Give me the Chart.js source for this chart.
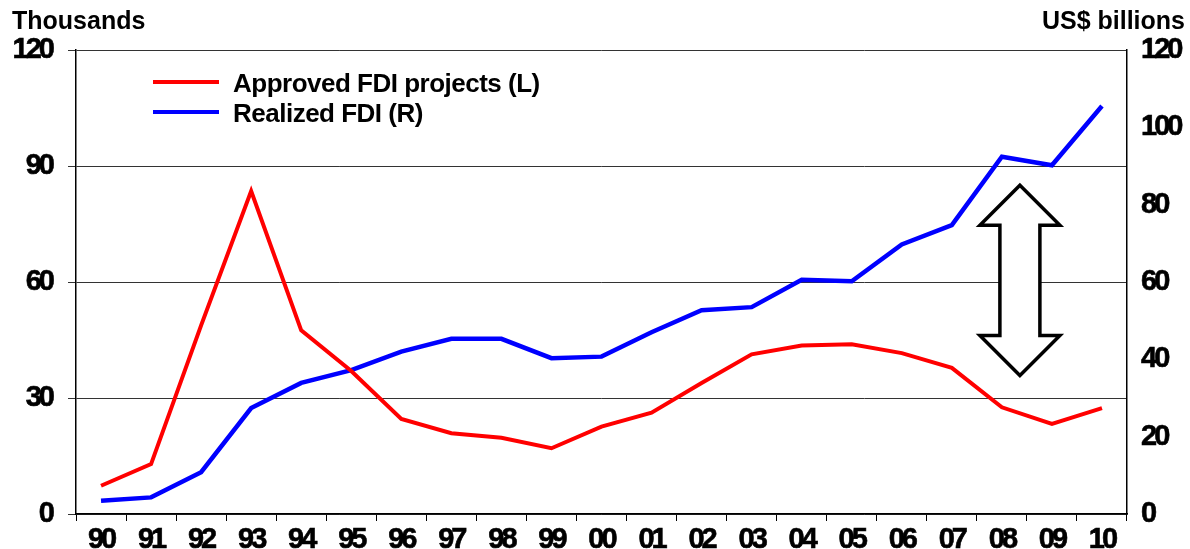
<!DOCTYPE html>
<html>
<head>
<meta charset="utf-8">
<script src="https://cdn.jsdelivr.net/npm/chart.js@4.4.0/dist/chart.umd.min.js"></script>
<style>
    html, body { margin: 0; padding: 0; background: #fff; }
    #wrap { width: 1190px; height: 549px; }
</style>
</head>
<body>
<div id="wrap"><canvas id="grafico"></canvas></div>
<script>
// datos
var years = ['90', '91', '92', '93', '94', '95', '96', '97', '98', '99', '00',
             '01', '02', '03', '04', '05', '06', '07', '08', '09', '10'];
var approvedProjects = [7.3, 12.9, 48.8, 83.5, 47.5, 37.0, 24.6, 20.9, 19.7, 17.0, 22.6,
                        26.2, 33.9, 41.3, 43.6, 43.9, 41.6, 37.8, 27.6, 23.3, 27.4];
var realizedFdi = [3.4, 4.3, 10.8, 27.4, 33.9, 37.2, 42.0, 45.3, 45.3, 40.3, 40.7,
                   47.0, 52.7, 53.5, 60.6, 60.2, 69.7, 74.7, 92.4, 90.2, 105.5];
var leftTicks = [0, 30, 60, 90, 120];
var rightTicks = [0, 20, 40, 60, 80, 100, 120];
// flecha doble (posicion en unidades del eje izquierdo)
var arrowX = 18.36;
var arrowTop = 85;
var arrowBottom = 35.8;

var FONT = "'Liberation Sans', Arial, sans-serif";

// numeros de los ejes mas apretados, como en el original
var spacingPlugin = {
    id: 'spacing',
    beforeUpdate: function (chart) { chart.ctx.letterSpacing = '-3px'; },
    beforeDraw: function (chart) { chart.ctx.letterSpacing = '-3px'; }
};

var extrasPlugin = {
    id: 'extras',
    afterDraw: function (chart) {
        var ctx = chart.ctx;
        var area = chart.chartArea;
        var x = chart.scales.x, yL = chart.scales.yL;
        ctx.save();

        // flecha
        var cx = x.getPixelForValue(arrowX);
        var t = yL.getPixelForValue(arrowTop);
        var b = yL.getPixelForValue(arrowBottom);
        var head = 40, hw = 40, sw = 20;
        ctx.beginPath();
        ctx.moveTo(cx, t);
        ctx.lineTo(cx + hw, t + head);
        ctx.lineTo(cx + sw, t + head);
        ctx.lineTo(cx + sw, b - head);
        ctx.lineTo(cx + hw, b - head);
        ctx.lineTo(cx, b);
        ctx.lineTo(cx - hw, b - head);
        ctx.lineTo(cx - sw, b - head);
        ctx.lineTo(cx - sw, t + head);
        ctx.lineTo(cx - hw, t + head);
        ctx.closePath();
        ctx.fillStyle = '#fff';
        ctx.fill();
        ctx.lineWidth = 3.5;
        ctx.lineJoin = 'miter';
        ctx.strokeStyle = '#000';
        ctx.stroke();

        // leyenda
        ctx.font = 'bold 26px ' + FONT;
        ctx.letterSpacing = '-0.5px';
        ctx.textBaseline = 'alphabetic';
        ctx.textAlign = 'left';
        chart.data.datasets.forEach(function (ds, i) {
            var ly = area.top + 32 + i * 30;
            ctx.beginPath();
            ctx.moveTo(area.left + 77, ly);
            ctx.lineTo(area.left + 143, ly);
            ctx.lineWidth = 4;
            ctx.strokeStyle = ds.borderColor;
            ctx.stroke();
            ctx.fillStyle = '#000';
            ctx.fillText(ds.label, area.left + 157, ly + 10);
        });

        // titulos de ejes
        ctx.font = 'bold 25px ' + FONT;
        ctx.letterSpacing = '0px';
        ctx.fillText('Thousands', 12, 29);
        ctx.textAlign = 'right';
        ctx.fillText('US$ billions', 1185, 29);
        ctx.restore();
    }
};

var tickFont = { family: FONT, size: 29, weight: 'bold', lineHeight: 1 };

var ctx = document.getElementById('grafico').getContext('2d');
var grafico = new Chart(ctx, {
    type: 'line',
    data: {
        labels: years,
        datasets: [{
            label: 'Approved FDI projects (L)',
            data: approvedProjects,
            borderColor: '#ff0000',
            borderWidth: 4,
            yAxisID: 'yL',
            pointRadius: 0,
            tension: 0
        }, {
            label: 'Realized FDI (R)',
            data: realizedFdi,
            borderColor: '#0000ff',
            borderWidth: 4.5,
            yAxisID: 'yR',
            pointRadius: 0,
            tension: 0
        }]
    },
    options: {
        responsive: true,
        maintainAspectRatio: false,
        animation: false,
        layout: { padding: { left: 0, right: 0, top: 50, bottom: 0 } },
        plugins: {
            legend: { display: false },
            tooltip: { enabled: false }
        },
        scales: {
            x: {
                offset: true,
                afterFit: function (axis) { axis.height = 35; },
                grid: {
                    offset: true,
                    drawOnChartArea: false,
                    drawTicks: true,
                    tickLength: 7,
                    color: '#000'
                },
                border: { color: '#000', width: 1.5 },
                ticks: {
                    color: '#000',
                    padding: 4,
                    maxRotation: 0,
                    autoSkip: false,
                    textStrokeColor: '#000',
                    textStrokeWidth: 0.6,
                    font: tickFont
                }
            },
            yL: {
                position: 'left',
                min: 0,
                max: 120,
                afterFit: function (axis) { axis.width = 76; },
                afterBuildTicks: function (axis) {
                    axis.ticks = leftTicks.map(function (v) { return { value: v }; });
                },
                grid: { color: '#333', lineWidth: 1, tickLength: 8 },
                border: { color: '#000', width: 1.5 },
                ticks: {
                    color: '#000',
                    padding: 16,
                    textStrokeColor: '#000',
                    textStrokeWidth: 0.6,
                    font: tickFont
                }
            },
            yR: {
                position: 'right',
                min: 0,
                max: 120,
                afterFit: function (axis) { axis.width = 63; },
                afterBuildTicks: function (axis) {
                    axis.ticks = rightTicks.map(function (v) { return { value: v }; });
                },
                grid: { drawOnChartArea: false, drawTicks: false },
                border: { color: '#000', width: 1.5 },
                ticks: {
                    color: '#000',
                    padding: 14,
                    textStrokeColor: '#000',
                    textStrokeWidth: 0.6,
                    font: tickFont
                }
            }
        }
    },
    plugins: [spacingPlugin, extrasPlugin]
});
</script>
</body>
</html>
